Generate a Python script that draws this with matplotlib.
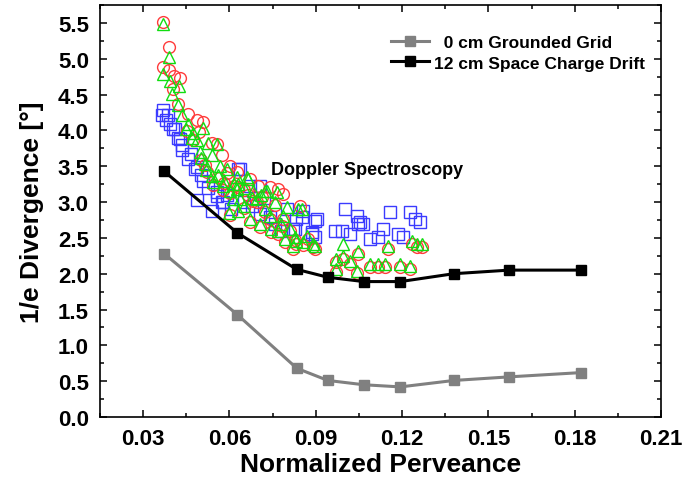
import numpy as np
import matplotlib
matplotlib.use("Agg")
import matplotlib.pyplot as plt
from matplotlib.ticker import MultipleLocator, FormatStrFormatter

plt.rcParams['font.family'] = ['Liberation Sans', 'DejaVu Sans']
plt.rcParams['font.weight'] = 'bold'

# line series: divergence vs normalized perveance
perv = [0.0373, 0.0627, 0.0834, 0.0942, 0.1067, 0.1194, 0.1380, 0.1572, 0.1823]
div_0cm = [2.28, 1.43, 0.68, 0.51, 0.45, 0.42, 0.51, 0.56, 0.62]
div_12cm = [3.43, 2.57, 2.06, 1.95, 1.89, 1.89, 2.00, 2.05, 2.05]

# doppler spectroscopy scatter (blue squares)
blue_x = [0.0368, 0.0387, 0.0364, 0.0381, 0.0393, 0.0404, 0.0410, 0.0422, 0.0428,
          0.0434, 0.0434, 0.0468, 0.0486, 0.0480, 0.0509, 0.0486, 0.0555, 0.0555,
          0.0538, 0.0573, 0.0578, 0.0607, 0.0630, 0.0636, 0.0671, 0.0706, 0.0706,
          0.0741, 0.0799, 0.0833, 0.0856, 0.0827, 0.0822, 0.0851, 0.0903, 0.0897,
          0.0886, 0.0897, 0.0886, 0.0967, 0.0990, 0.1001, 0.1042, 0.1048, 0.1053,
          0.1065, 0.1019, 0.1088, 0.1117, 0.1134, 0.1158, 0.1187, 0.1204, 0.1227,
          0.1245, 0.1262, 0.0525, 0.0590, 0.0650, 0.0680, 0.0720, 0.0760, 0.0780,
          0.0455, 0.0500]
blue_y = [4.28, 4.21, 4.21, 4.14, 4.09, 4.02, 4.02, 3.90, 3.88,
          3.79, 3.72, 3.67, 3.49, 3.46, 3.30, 3.03, 3.14, 3.09,
          2.88, 3.00, 3.00, 2.90, 3.46, 3.46, 3.23, 3.23, 2.83,
          2.79, 2.90, 2.76, 2.88, 2.62, 2.62, 2.79, 2.76, 2.74,
          2.55, 2.51, 2.58, 2.60, 2.60, 2.90, 2.81, 2.69, 2.72,
          2.69, 2.55, 2.48, 2.51, 2.62, 2.86, 2.55, 2.51, 2.86,
          2.76, 2.72, 3.20, 3.10, 3.00, 2.95, 3.05, 2.70, 2.60,
          3.60, 3.38]

# red circles
red_x = [0.0368, 0.0389, 0.0370, 0.0389, 0.0408, 0.0428, 0.0404, 0.0422, 0.0457,
         0.0486, 0.0508, 0.0494, 0.0538, 0.0555, 0.0573, 0.0602, 0.0625, 0.0671,
         0.0699, 0.0741, 0.0768, 0.0786, 0.0845, 0.0515, 0.0543, 0.0590, 0.0578,
         0.0601, 0.0630, 0.0665, 0.0694, 0.0723, 0.0758, 0.0671, 0.0706, 0.0746,
         0.0787, 0.0769, 0.0793, 0.0827, 0.0856, 0.0891, 0.0822, 0.0897,
         0.0972, 0.0995, 0.1019, 0.1048, 0.1042, 0.0972, 0.1088, 0.1117, 0.1140,
         0.1152, 0.1192, 0.1227, 0.1233, 0.1251, 0.1268,
         0.0452, 0.0472, 0.0502, 0.0522, 0.0562, 0.0582, 0.0617, 0.0652, 0.0682,
         0.0712, 0.0742, 0.0782, 0.0812, 0.0832, 0.0872, 0.0652, 0.0602]
red_y = [5.51, 5.17, 4.88, 4.84, 4.76, 4.73, 4.58, 4.37, 4.23,
         4.14, 4.12, 3.98, 3.82, 3.81, 3.65, 3.51, 3.42, 3.32,
         3.23, 3.21, 3.18, 3.11, 2.95, 3.52, 3.24, 3.41, 3.17,
         3.12, 3.21, 3.10, 3.00, 2.86, 2.96, 2.72, 2.65, 2.58,
         2.77, 2.56, 2.44, 2.47, 2.40, 2.37, 2.35, 2.35,
         2.17, 2.21, 2.14, 2.28, 2.01, 2.03, 2.10, 2.10, 2.10,
         2.35, 2.10, 2.07, 2.42, 2.37, 2.37,
         3.99, 3.86, 3.58, 3.42, 3.34, 3.27, 3.22, 3.17, 3.02,
         3.07, 2.77, 2.67, 2.59, 2.42, 2.49, 2.92, 2.82]

# green triangles
green_x = [0.0368, 0.0389, 0.0368, 0.0393, 0.0425, 0.0399, 0.0422, 0.0434, 0.0457,
           0.0474, 0.0509, 0.0486, 0.0526, 0.0555, 0.0497, 0.0538, 0.0515, 0.0567,
           0.0590, 0.0538, 0.0625, 0.0665, 0.0578, 0.0625, 0.0683, 0.0729, 0.0764,
           0.0613, 0.0543, 0.0601, 0.0630, 0.0660, 0.0636, 0.0694, 0.0723, 0.0723,
           0.0758, 0.0671, 0.0706, 0.0630, 0.0746, 0.0799, 0.0839, 0.0787, 0.0769,
           0.0793, 0.0827, 0.0856, 0.0891, 0.0822, 0.0897, 0.0851,
           0.0972, 0.0995, 0.1019, 0.1048, 0.1042, 0.0972, 0.0995, 0.1088, 0.1117,
           0.1140, 0.1152, 0.1192, 0.1227, 0.1233, 0.1251, 0.1268,
           0.0450, 0.0470, 0.0500, 0.0520, 0.0560, 0.0580, 0.0615, 0.0650, 0.0680,
           0.0710, 0.0740, 0.0780, 0.0810, 0.0830, 0.0870, 0.0650, 0.0600]
green_y = [5.49, 5.02, 4.79, 4.69, 4.62, 4.51, 4.35, 4.21, 4.09,
           3.97, 4.04, 3.86, 3.83, 3.81, 3.70, 3.65, 3.53, 3.51,
           3.46, 3.37, 3.35, 3.32, 3.23, 3.18, 3.16, 3.16, 3.14,
           3.04, 3.28, 3.16, 3.25, 3.35, 3.04, 3.04, 3.16, 2.90,
           3.00, 2.76, 2.69, 2.88, 2.62, 2.93, 2.90, 2.81, 2.60,
           2.48, 2.51, 2.44, 2.41, 2.39, 2.39, 2.90,
           2.21, 2.25, 2.18, 2.32, 2.04, 2.07, 2.41, 2.14, 2.14,
           2.14, 2.39, 2.14, 2.11, 2.46, 2.41, 2.41,
           4.02, 3.90, 3.62, 3.45, 3.38, 3.30, 3.25, 3.20, 3.05,
           3.10, 2.80, 2.70, 2.62, 2.45, 2.52, 2.95, 2.85]

fig = plt.figure(figsize=(6.83, 4.89), dpi=100)
ax = fig.add_axes([100 / 683, 1 - 418 / 489, 561 / 683, 412 / 489])

ax.plot(blue_x, blue_y, 's', ms=8, mfc='none', mec='#3b3bff', mew=1.0)
ax.plot(red_x, red_y, 'o', ms=8.5, mfc='none', mec='#ff3b3b', mew=1.0)
ax.plot(green_x, green_y, '^', ms=9, mfc='none', mec='#11dd11', mew=1.0)

ax.plot(perv, div_0cm, '-s', color='#808080', lw=2.2, ms=6.5,
        label='  0 cm Grounded Grid')
ax.plot(perv, div_12cm, '-s', color='black', lw=2.2, ms=6.5,
        label='12 cm Space Charge Drift')

ax.text(0.0745, 3.46, 'Doppler Spectroscopy', fontsize=13, fontweight='bold',
        va='center', ha='left')

ax.set_xlim(0.015, 0.21)
ax.set_ylim(0, 5.75)
ax.xaxis.set_major_locator(MultipleLocator(0.03))
ax.xaxis.set_minor_locator(MultipleLocator(0.015))
ax.yaxis.set_major_locator(MultipleLocator(0.5))
ax.yaxis.set_minor_locator(MultipleLocator(0.25))
ax.xaxis.set_major_formatter(FormatStrFormatter('%.2f'))
ax.yaxis.set_major_formatter(FormatStrFormatter('%.1f'))

ax.tick_params(which='both', direction='in', top=True, right=True, width=1.1)
ax.tick_params(which='major', length=5, labelsize=16, pad=8)
ax.tick_params(which='minor', length=3)
for s in ax.spines.values():
    s.set_linewidth(1.2)

ax.set_xlabel('Normalized Perveance', fontsize=19, fontweight='bold', labelpad=2)
ax.set_ylabel('1/e Divergence [°]', fontsize=19, fontweight='bold', labelpad=10)

ax.legend(loc='upper right', bbox_to_anchor=(1.0, 0.965), frameon=False,
          handlelength=2.2, handletextpad=0.3, labelspacing=0.3,
          prop={'weight': 'bold', 'size': 12.5})

fig.savefig('out.png', dpi=100)
